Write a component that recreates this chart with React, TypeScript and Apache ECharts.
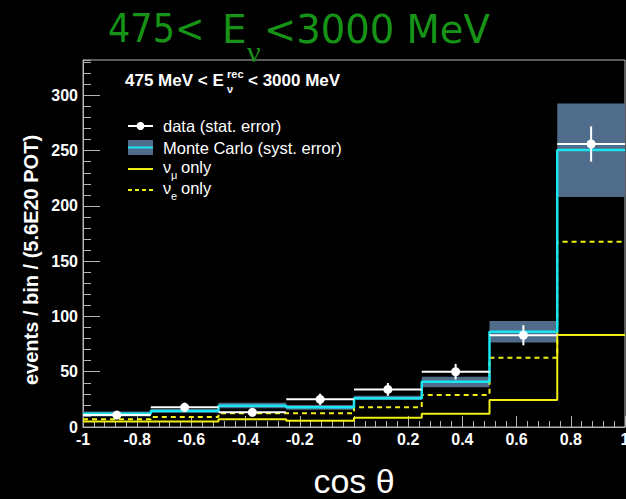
import React, { useEffect, useRef } from "react";
import * as echarts from "echarts";

const binEdges = [-1, -0.75, -0.5, -0.25, 0, 0.25, 0.5, 0.75, 1];
const binCenters = [-0.875, -0.625, -0.375, -0.125, 0.125, 0.375, 0.625, 0.875];
const dataValues = [10.8, 17.8, 13.3, 25, 34, 50, 83, 256];
const dataErrors = [3.3, 4.2, 3.6, 5.2, 5.8, 7.1, 9.1, 16];
const mcValues = [12, 14.5, 19.3, 17.8, 26, 41, 86.2, 250.5];
const mcSystHigh = [14, 16.2, 22, 20, 28.3, 45.5, 96, 292.7];
const mcSystLow = [9.5, 12.8, 17, 15.5, 24.4, 36, 76.5, 208];
const numuOnly = [5, 5, 7, 5.7, 8.4, 12, 24.4, 83.2];
const nueOnly = [7, 9, 12.4, 12.4, 17.8, 29, 62.7, 167.5];
const xTickLabels = ["-1", "-0.8", "-0.6", "-0.4", "-0.2", "-0", "0.2", "0.4", "0.6", "0.8", "1"];
const yMax = 332;

const FONT = "'Liberation Sans', Arial, Helvetica, sans-serif";
const TITLE_FONT = "'DejaVu Sans', sans-serif";
const GREEN = "#179417";
const BAND = "#4f6d8b";
const CYAN = "#19e6f0";
const YELLOW = "#f0ee14";
const AXIS = "#b4b4b4";

const GRID_LEFT = 83;
const GRID_RIGHT = 1;
const CHART_W = 626;
const CHART_H = 499;

const stepPoints = (vals: number[]) =>
  vals.flatMap((v, i) => [
    [binEdges[i], v],
    [binEdges[i + 1], v],
  ]);

export default function App() {
  const ref = useRef<HTMLDivElement>(null);
  useEffect(() => {
    if (!ref.current) return;
    const chart = echarts.init(ref.current, undefined, { renderer: "svg" });
    const plotWidth = CHART_W - GRID_LEFT - GRID_RIGHT;
    const option: any = {
      animation: false,
      backgroundColor: "#000",
      grid: {
        left: GRID_LEFT,
        right: GRID_RIGHT,
        top: 60,
        bottom: 72,
        outerBoundsMode: "none",
        containLabel: false,
        show: true,
        borderColor: AXIS,
        borderWidth: 1,
        backgroundColor: "transparent",
      },
      xAxis: {
        type: "value",
        min: -1,
        max: 1,
        interval: 0.2,
        name: "cos θ",
        nameLocation: "middle",
        nameGap: 37,
        nameTextStyle: { color: "#fff", fontSize: 34, fontFamily: FONT },
        axisLine: { show: true, onZero: false, lineStyle: { color: AXIS, width: 1 } },
        axisTick: { show: true, inside: true, length: 11, lineStyle: { color: AXIS } },
        minorTick: { show: true, splitNumber: 5, length: 6, lineStyle: { color: AXIS } },
        splitLine: { show: false },
        axisLabel: {
          color: "#fff",
          fontWeight: "bold",
          fontSize: 16,
          fontFamily: FONT,
          margin: 4,
          formatter: (v: number) => xTickLabels[Math.round((v + 1) / 0.2)] ?? "",
        },
      },
      yAxis: [
        {
          type: "value",
          min: 0,
          max: yMax,
          interval: 50,
          position: "left",
          axisLine: { show: true, onZero: false, lineStyle: { color: AXIS, width: 1 } },
          axisTick: { show: true, inside: true, length: 17, lineStyle: { color: AXIS } },
          splitLine: { show: false },
          axisLabel: {
            color: "#fff",
            fontWeight: "bold",
            fontSize: 16,
            fontFamily: FONT,
            margin: 5,
            showMaxLabel: false,
          },
        },
        {
          // minor ticks every 10, drawn on the left edge of the frame
          type: "value",
          min: 0,
          max: yMax,
          interval: 10,
          position: "right",
          offset: -plotWidth,
          axisLine: { show: false, onZero: false },
          axisTick: { show: true, inside: false, length: 8, lineStyle: { color: AXIS } },
          splitLine: { show: false },
          axisLabel: { show: false },
        },
      ],
      graphic: [
        // y-axis title
        { type: "text", x: 31, y: 260, rotation: Math.PI / 2, style: { text: "events / bin / (5.6E20 POT)", fill: "#fff", fontSize: 20, fontWeight: "bold", fontFamily: FONT, textAlign: "center", textVerticalAlign: "middle" } },
        // title
        { type: "text", x: 108, y: 29, scaleX: 0.9, style: { text: "475<", fill: GREEN, fontSize: 39, fontFamily: TITLE_FONT, textVerticalAlign: "middle" } },
        { type: "text", x: 222, y: 29, style: { text: "E", fill: GREEN, fontSize: 39, fontFamily: TITLE_FONT, textVerticalAlign: "middle" } },
        { type: "text", x: 247, y: 51, style: { text: "ν", fill: GREEN, fontSize: 30, fontFamily: "'Liberation Serif', serif", textVerticalAlign: "middle" } },
        { type: "text", x: 264, y: 29, style: { text: "<3000 MeV", fill: GREEN, fontSize: 38.5, fontFamily: TITLE_FONT, textVerticalAlign: "middle" } },
        // header
        { type: "text", x: 125, y: 80, style: { text: "475 MeV < E", fill: "#fff", fontSize: 17, fontWeight: "bold", fontFamily: FONT, textVerticalAlign: "middle" } },
        { type: "text", x: 227, y: 74, style: { text: "rec", fill: "#fff", fontSize: 11, fontWeight: "bold", fontFamily: FONT, textVerticalAlign: "middle" } },
        { type: "text", x: 227, y: 89, style: { text: "ν", fill: "#fff", fontSize: 11, fontWeight: "bold", fontFamily: FONT, textVerticalAlign: "middle" } },
        { type: "text", x: 248, y: 80, style: { text: "< 3000 MeV", fill: "#fff", fontSize: 17, fontWeight: "bold", fontFamily: FONT, textVerticalAlign: "middle" } },
        // legend: data
        { type: "line", shape: { x1: 128, y1: 126, x2: 153, y2: 126 }, style: { stroke: "#fff", lineWidth: 2 } },
        { type: "line", shape: { x1: 140.5, y1: 122, x2: 140.5, y2: 130 }, style: { stroke: "#fff", lineWidth: 2 } },
        { type: "circle", shape: { cx: 140.5, cy: 126, r: 4 }, style: { fill: "#fff" } },
        { type: "text", x: 163, y: 126, style: { text: "data (stat. error)", fill: "#fff", fontSize: 16.5, fontFamily: FONT, textVerticalAlign: "middle" } },
        // legend: MC
        { type: "rect", shape: { x: 128, y: 140, width: 25, height: 15 }, style: { fill: BAND } },
        { type: "line", shape: { x1: 128, y1: 147.5, x2: 153, y2: 147.5 }, style: { stroke: CYAN, lineWidth: 2 } },
        { type: "text", x: 163, y: 148, style: { text: "Monte Carlo (syst. error)", fill: "#fff", fontSize: 16.5, fontFamily: FONT, textVerticalAlign: "middle" } },
        // legend: numu
        { type: "line", shape: { x1: 128, y1: 169, x2: 153, y2: 169 }, style: { stroke: YELLOW, lineWidth: 2 } },
        { type: "text", x: 163, y: 167, style: { text: "ν", fill: "#fff", fontSize: 16.5, fontFamily: FONT, textVerticalAlign: "middle" } },
        { type: "text", x: 171, y: 175, style: { text: "μ", fill: "#fff", fontSize: 11, fontFamily: FONT, textVerticalAlign: "middle" } },
        { type: "text", x: 181, y: 167, style: { text: "only", fill: "#fff", fontSize: 16.5, fontFamily: FONT, textVerticalAlign: "middle" } },
        // legend: nue
        { type: "line", shape: { x1: 128, y1: 190, x2: 153, y2: 190 }, style: { stroke: YELLOW, lineWidth: 2, lineDash: [4, 3] } },
        { type: "text", x: 163, y: 188, style: { text: "ν", fill: "#fff", fontSize: 16.5, fontFamily: FONT, textVerticalAlign: "middle" } },
        { type: "text", x: 171, y: 196, style: { text: "e", fill: "#fff", fontSize: 11, fontFamily: FONT, textVerticalAlign: "middle" } },
        { type: "text", x: 181, y: 188, style: { text: "only", fill: "#fff", fontSize: 16.5, fontFamily: FONT, textVerticalAlign: "middle" } },
      ],
      series: [
        {
          name: "Monte Carlo syst. band",
          type: "custom",
          z: 1,
          data: mcSystLow.map((lo, i) => [binEdges[i], binEdges[i + 1], lo, mcSystHigh[i]]),
          encode: { x: [0, 1], y: [2, 3] },
          renderItem: (_params: any, api: any) => {
            const p0 = api.coord([api.value(0), api.value(3)]);
            const p1 = api.coord([api.value(1), api.value(2)]);
            return {
              type: "rect",
              shape: { x: p0[0], y: p0[1], width: p1[0] - p0[0], height: p1[1] - p0[1] },
              style: { fill: BAND },
            };
          },
        },
        {
          name: "νe only",
          type: "line",
          z: 2,
          data: stepPoints(nueOnly),
          showSymbol: false,
          lineStyle: { color: YELLOW, width: 2, type: [5, 4] },
        },
        {
          name: "νμ only",
          type: "line",
          z: 3,
          data: stepPoints(numuOnly),
          showSymbol: false,
          lineStyle: { color: YELLOW, width: 2 },
        },
        {
          name: "Monte Carlo",
          type: "line",
          z: 4,
          data: stepPoints(mcValues),
          showSymbol: false,
          lineStyle: { color: CYAN, width: 2.5 },
        },
        {
          name: "data",
          type: "custom",
          z: 5,
          data: dataValues.map((v, i) => [binEdges[i], binEdges[i + 1], binCenters[i], v, dataErrors[i]]),
          encode: { x: [0, 1], y: 3 },
          renderItem: (_params: any, api: any) => {
            const v = api.value(3);
            const e = api.value(4);
            const l = api.coord([api.value(0), v]);
            const r = api.coord([api.value(1), v]);
            const c = api.coord([api.value(2), v]);
            const t = api.coord([api.value(2), v + e]);
            const b = api.coord([api.value(2), v - e]);
            return {
              type: "group",
              children: [
                { type: "line", shape: { x1: l[0], y1: l[1], x2: r[0], y2: r[1] }, style: { stroke: "#fff", lineWidth: 2 } },
                { type: "line", shape: { x1: t[0], y1: t[1], x2: b[0], y2: b[1] }, style: { stroke: "#fff", lineWidth: 2 } },
                { type: "circle", shape: { cx: c[0], cy: c[1], r: 4.5 }, style: { fill: "#fff" } },
              ],
            };
          },
        },
      ],
    };
    chart.setOption(option);
    return () => chart.dispose();
  }, []);
  return (
    <div
      ref={ref}
      style={{ position: "fixed", left: 0, top: 0, width: CHART_W, height: CHART_H, background: "#000" }}
    />
  );
}
